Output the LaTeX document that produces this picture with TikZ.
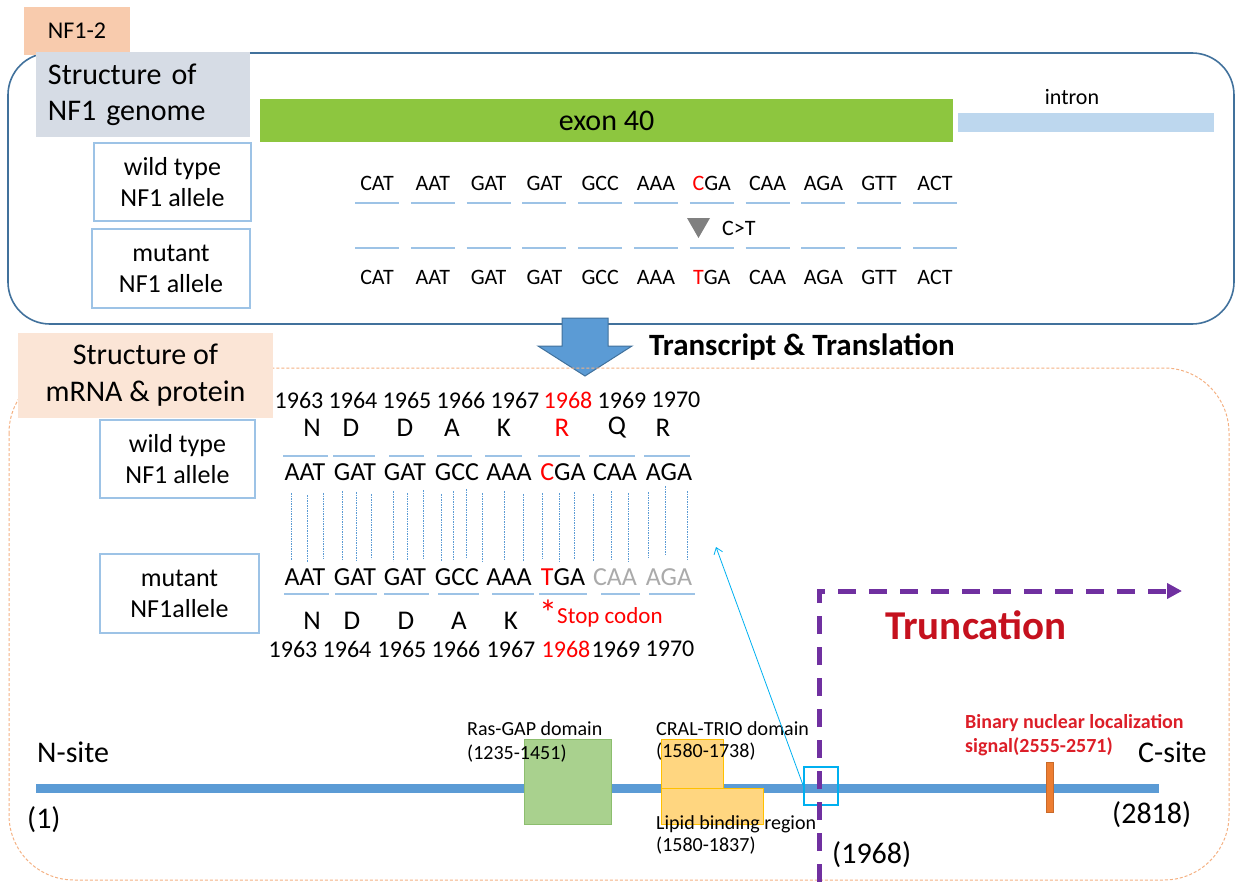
\documentclass[tikz,border=0pt]{standalone}
\usepackage{fontspec}
\setmainfont{Carlito}
\usepackage{tikz}
\usetikzlibrary{arrows.meta,positioning}

\definecolor{framebl}{RGB}{65,113,156}
\definecolor{peach}{RGB}{248,203,173}
\definecolor{peachl}{RGB}{251,229,214}
\definecolor{greybl}{RGB}{214,220,229}
\definecolor{boxbl}{RGB}{157,195,230}
\definecolor{exongr}{RGB}{141,198,63}
\definecolor{intronbl}{RGB}{189,215,238}
\definecolor{protbl}{RGB}{91,155,213}
\definecolor{arrowbl}{RGB}{65,113,156}
\definecolor{rasfill}{RGB}{169,209,142}
\definecolor{rasline}{RGB}{140,190,110}
\definecolor{cralfill}{RGB}{255,214,128}
\definecolor{cralline}{RGB}{255,192,0}
\definecolor{truncpu}{RGB}{112,48,160}
\definecolor{truncred}{RGB}{197,17,30}
\definecolor{nlsred}{RGB}{220,30,40}
\definecolor{nlsor}{RGB}{237,125,49}
\definecolor{cyanbox}{RGB}{0,176,240}
\definecolor{orline}{RGB}{244,177,131}
\definecolor{ptred}{RGB}{255,0,0}
\definecolor{lostgr}{RGB}{170,170,170}
\definecolor{trigrey}{RGB}{128,128,128}

\newcommand{\fsz}[2]{\fontsize{#1bp}{#2bp}\selectfont}

\begin{document}
\begin{tikzpicture}[x=1bp,y=-1bp,
  txt/.style={inner sep=0pt,align=center},
  allelebox/.style={draw=boxbl,line width=1.2bp,fill=white,inner sep=0pt,align=center,font=\fsz{26}{31}},
  codon/.style={inner sep=0pt,font=\fsz{22}{26}},
  rnacodon/.style={inner sep=0pt,font=\fsz{26}{30}},
  aa/.style={inner sep=0pt,font=\fsz{27}{30}},
  aanum/.style={inner sep=0pt,font=\fsz{24}{28}},
  codonline/.style={boxbl,line width=1.6bp},
  pairline/.style={protbl,line width=0.8bp,dash pattern=on 1.5bp off 1bp},
  site/.style={inner sep=0pt,anchor=west,font=\fsz{30}{34}},
  domtext/.style={inner sep=0pt,anchor=west,font=\fsz{20}{24}}]
\useasboundingbox (0,0) rectangle (1237,882);

% genome panel
\draw[framebl,line width=1.6bp,rounded corners=42bp] (8,53) rectangle (1234,324);
\node[fill=peach,minimum width=106bp,minimum height=48bp,inner sep=0pt,font=\fsz{24}{28}] (tag) at (77,31) {NF1-2};
\node[fill=greybl,minimum width=214bp,minimum height=85bp,text width=190bp,align=left,inner sep=0pt,font=\fsz{30}{36}] (genome) at (143,94.5) {Structure of\\NF1 genome};
\node[allelebox,minimum width=157bp,minimum height=78bp] (wtdna) at (172.5,182) {wild type\\NF1 allele};
\node[allelebox,minimum width=158bp,minimum height=79bp] (mtdna) at (171,268.5) {mutant\\NF1 allele};
\node[fill=exongr,minimum width=693bp,minimum height=43bp,inner sep=0pt,font=\fsz{30}{34}] (exon) at (606.5,120.5) {exon 40};
\node[fill=intronbl,minimum width=256bp,minimum height=19bp,inner sep=0pt] (intron) at (1086,122.5) {};
\node[txt,font=\fsz{22}{26}] (intronlbl) at (1072,97) {intron};

% exon 40 codons
\foreach \c [count=\i from 0] in {CAT,AAT,GAT,GAT,GCC,AAA,{\textcolor{ptred}{C}GA},CAA,AGA,GTT,ACT} {
  \node[codon] (wt\i) at (377+55.8*\i,183) {\c};
  \draw[codonline] (355+55.8*\i,203) -- (399+55.8*\i,203);
}
\foreach \c [count=\i from 0] in {CAT,AAT,GAT,GAT,GCC,AAA,{\textcolor{ptred}{T}GA},CAA,AGA,GTT,ACT} {
  \node[codon] (mt\i) at (377+55.8*\i,277) {\c};
  \draw[codonline] (355+55.8*\i,248) -- (399+55.8*\i,248);
}
\fill[trigrey] (687,218) -- (710,218) -- (698.5,238) -- cycle;
\node[codon,anchor=west] (snv) at (722,228) {C>T};

% transcript arrow
\draw[arrowbl,line width=1bp,fill=protbl] (562,318) -- (608,318) -- (608,346) -- (632,346)
  -- (585,376) -- (538,346) -- (562,346) -- cycle;
\node[txt,font=\bfseries\fsz{31}{34}] (transl) at (802,347) {Transcript \& Translation};

% mRNA / protein panel
\draw[orline,line width=1bp,dash pattern=on 3bp off 2bp,rounded corners=65bp] (9,368) rectangle (1229,880);
\node[fill=peachl,minimum width=255bp,minimum height=85bp,inner sep=0pt,align=center,font=\fsz{30}{37}] (mrna) at (145.5,375.5) {Structure of\\mRNA \& protein};
\node[allelebox,minimum width=155bp,minimum height=78bp] (wtrna) at (177.5,459) {wild type\\NF1 allele};
\node[allelebox,minimum width=159bp,minimum height=79bp] (mtrna) at (179.5,593.5) {mutant\\NF1allele};

\foreach \n/\x/\col in {1963/299/black,1964/353/black,1965/407/black,1966/461/black,
    1967/515/black,1968/568/ptred,1969/622/black,1970/676/black}
  \node[aanum,text=\col] (wn\n) at (\x,400) {\n};
\foreach \a/\x/\col [count=\i] in {N/312/black,D/351/black,D/405/black,A/452/black,
    K/504/black,R/562/ptred,Q/617/black,R/663/black}
  \node[aa,text=\col] (wa\i) at (\x,428) {\a};
\foreach \a/\l [count=\i] in {283/328,333/375,389/424,437/472,485/522,538/580,589/635,644/690}
  \draw[codonline] (\a,456) -- (\l,456);
\foreach \c/\x [count=\i] in {AAT/305,GAT/355,GAT/405,GCC/457,AAA/509,{\textcolor{ptred}{C}GA}/563,CAA/615,AGA/669}
  \node[rnacodon] (wr\i) at (\x,472) {\c};

% base pairing
\foreach \x/\a/\b in {291/493/560,307/495/562,323/493/559,342/491/560,356/492/561,371/494/559,
    393/491/561,407/493/560,423/490/558,441/494/561,453/491/559,466/489/558,482/493/561,
    504/491/560,523/494/561,542/493/559,559/493/561,574/492/559,593/494/561,611/491/560,
    628/493/561,648/492/558,665/486/555,687/491/560}
  \draw[pairline] (\x,\a) -- (\x,\b);

\foreach \c/\x [count=\i] in {AAT/305,GAT/355,GAT/405,GCC/457,AAA/509,{\textcolor{ptred}{T}GA}/563,
    {\textcolor{lostgr}{CAA}}/615,{\textcolor{lostgr}{AGA}}/669}
  \node[rnacodon] (mr\i) at (\x,577) {\c};
\foreach \a/\l in {284/329,335/377,384/429,438/479,492/534,539/587,601/640,649/695}
  \draw[codonline] (\a,594) -- (\l,594);
\foreach \a/\x [count=\i] in {N/312,D/352,D/406,A/459,K/511}
  \node[aa] (ma\i) at (\x,621) {\a};
\node[txt,text=ptred,font=\fsz{36}{36}] (star) at (548,613) {*};
\node[txt,anchor=west,text=ptred,font=\fsz{23}{26}] (stop) at (557,617) {Stop codon};
\foreach \n/\x/\col in {1963/293/black,1964/347/black,1965/402/black,1966/456/black,
    1967/511/black,1968/566/ptred,1969/616/black,1970/670/black}
  \node[aanum,text=\col] (mn\n) at (\x,649) {\n};

% protein
\coordinate (nterm) at (36,788);
\coordinate (cterm) at (1159,788);
\draw[protbl,line width=9bp] (nterm) -- (cterm);
\node[site] (nsite) at (37,752) {N-site};
\node[site] (pos1) at (27,820) {(1)};
\node[site] (csite) at (1138,752) {C-site};
\node[site] (pos2818) at (1112,815) {(2818)};

\fill[rasfill,draw=rasline,line width=0.6bp] (524,739) rectangle (611,824);
\fill[cralfill,draw=cralline,line width=0.8bp] (661,739) rectangle (723,788);
\fill[cralfill,draw=cralline,line width=0.8bp] (661,788) rectangle (763,824);
\node[domtext] (rasgap) at (467,729) {Ras-GAP domain};
\node[domtext] (raspos) at (467,754) {(1235-1451)};
\node[domtext] (cral) at (656,729) {CRAL-TRIO domain};
\node[domtext] (cralpos) at (656,752) {(1580-1738)};
\node[domtext] (lipid) at (656,824) {Lipid binding region};
\node[domtext] (lipidpos) at (656,846) {(1580-1837)};

\fill[nlsor,draw=nlsor!85!black,line width=0.6bp] (1046,762) rectangle (1053,812);
\node[txt,anchor=west,align=left,text=nlsred,font=\bfseries\fsz{20}{24}] (nls) at (965,735)
  {Binary nuclear localization\\signal(2555-2571)};

% truncation
\node[draw=cyanbox,line width=1.3bp,minimum width=34bp,minimum height=38bp,inner sep=0pt] (cut) at (821,786) {};
\coordinate (mutsite) at (716,547);
\draw[cyanbox,line width=0.8bp,-{Straight Barb[length=6bp,width=9bp]}] (cut.west) -- (mutsite);
\coordinate (tbot) at (819,882);
\coordinate (tcorner) at (819,591);
\coordinate (tend) at (1182,591);
\draw[truncpu,line width=5bp,dash pattern=on 18bp off 13bp,-{Triangle[length=15bp,width=15bp]}]
  (tbot) -- (tcorner) -- (tend);
\node[txt,text=truncred,font=\bfseries\fsz{41}{44}] (trunc) at (976,625) {Truncation};
\node[site] (pos1968) at (832,855) {(1968)};
\end{tikzpicture}
\end{document}
